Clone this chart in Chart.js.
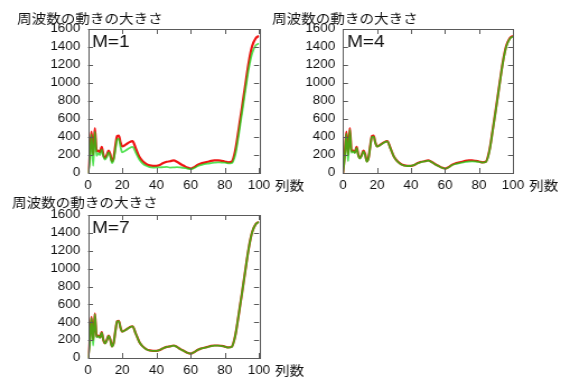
<!DOCTYPE html>
<html>
<head>
<meta charset="utf-8">
<script src="https://cdn.jsdelivr.net/npm/chart.js@4/dist/chart.umd.min.js"></script>
<style>
  html, body { margin: 0; padding: 0; background: #fff; }
  body { width: 570px; height: 378px; position: relative; overflow: hidden; }
  .panel { position: absolute; transform-origin: 0 0; }
  .panel canvas { display: block; }
</style>
</head>
<body>
<div class="panel" id="p1"><canvas id="c1"></canvas></div>
<div class="panel" id="p2"><canvas id="c2"></canvas></div>
<div class="panel" id="p3"><canvas id="c3"></canvas></div>
<script>
// Column index (x) shared by every series
const columns = [0,1,2,3,4,5,6,7,8,9,10,11,12,13,14,15,16,17,18,19,20,
  22,24,26,28,30,32,34,36,38,40,42,44,46,48,50,52,54,56,58,60,
  62,64,66,68,70,72,74,76,78,80,82,84,86,88,90,92,94,96,98,100];

// Magnitude of frequency movement: original (red)
const original = [0,200,460,200,500,240,250,230,290,200,165,200,250,210,130,170,300,410,415,340,295,
  315,340,355,270,180,130,100,85,80,80,90,110,125,130,140,125,100,80,60,50,
  65,90,105,115,125,135,140,140,135,128,118,125,240,470,720,980,1230,1410,1495,1525];

// Approximations with M terms (green)
const approxM1 = [0,120,430,80,460,190,220,200,260,180,150,180,230,190,110,150,260,370,380,290,230,
  250,275,290,225,150,105,80,65,60,62,62,65,68,60,62,65,62,58,50,42,
  55,75,88,98,105,110,115,118,116,115,108,110,195,410,660,920,1160,1330,1415,1440];

const approxM4 = [0,170,440,130,480,225,240,220,280,195,160,195,240,200,125,165,290,400,405,335,292,
  312,337,352,268,178,128,98,83,78,80,90,108,122,128,138,123,98,78,58,48,
  62,86,100,108,116,124,128,130,128,124,116,122,232,462,712,972,1222,1402,1488,1518];

const approxM7 = [0,150,450,140,490,230,245,225,285,200,162,198,247,207,128,168,297,408,413,338,294,
  314,339,354,269,179,129,99,84,79,80,90,109,124,129,139,124,99,79,59,49,
  64,89,104,113,123,133,138,138,133,127,117,124,238,468,718,978,1228,1408,1493,1523];

const yTicks = [0,200,400,600,800,1000,1200,1400,1600];
const xTicks = [0,20,40,60,80,100];

const titleText = '周波数の動きの大きさ';
const xUnit = '列数';

const SX = 1.12;               // horizontal stretch of each panel
const FONT_LATIN = '"Liberation Sans", Arial, sans-serif';
const FONT_CJK = '"Noto Sans CJK JP", "Noto Sans CJK SC", sans-serif';
const FRAME = '#5a5a5a';
const TEXT = '#111111';

// panel placement on the page (page pixels)
const panels = [
  { id: 'p1', canvas: 'c1', left: 0,   top: 0,   w: 320, h: 192,
    plot: { l: 88, r: 259, t: 29, b: 173 }, titleX: 17, titleY: 18, label: 'M=1', approx: approxM1 },
  { id: 'p2', canvas: 'c2', left: 262, top: 0,   w: 308, h: 192,
    plot: { l: 81, r: 251, t: 29, b: 173 }, titleX: 10, titleY: 18, label: 'M=4', approx: approxM4 },
  { id: 'p3', canvas: 'c3', left: 0,   top: 188, w: 320, h: 190,
    plot: { l: 88, r: 259, t: 27, b: 170 }, titleX: 12, titleY: 14, label: 'M=7', approx: approxM7 }
];

const toPoints = arr => columns.map((c, i) => ({ x: c, y: arr[i] }));

// frame, inward ticks, title, M label and x unit
const panelDecor = {
  id: 'panelDecor',
  afterDraw(chart, args, opts) {
    const { ctx, chartArea: a, scales } = chart;
    ctx.save();
    ctx.strokeStyle = FRAME;
    ctx.lineWidth = 1;
    ctx.strokeRect(Math.round(a.left) + 0.5, Math.round(a.top) + 0.5,
                   Math.round(a.right - a.left), Math.round(a.bottom - a.top));
    const tl = 5;
    ctx.beginPath();
    xTicks.forEach(v => {
      const x = Math.round(scales.x.getPixelForValue(v)) + 0.5;
      ctx.moveTo(x, a.bottom); ctx.lineTo(x, a.bottom - tl);
      ctx.moveTo(x, a.top); ctx.lineTo(x, a.top + tl);
    });
    yTicks.forEach(v => {
      const y = Math.round(scales.y.getPixelForValue(v)) + 0.5;
      ctx.moveTo(a.left, y); ctx.lineTo(a.left + tl / SX, y);
      ctx.moveTo(a.right, y); ctx.lineTo(a.right - tl / SX, y);
    });
    ctx.stroke();

    ctx.fillStyle = TEXT;
    ctx.textBaseline = 'middle';
    ctx.textAlign = 'left';
    ctx.font = '13px ' + FONT_CJK;
    ctx.fillText(titleText, opts.titleX / SX, opts.titleY);

    ctx.textBaseline = 'alphabetic';
    ctx.font = '17px ' + FONT_LATIN;
    ctx.fillText(opts.label, a.left + 4 / SX, a.top + 18);

    ctx.textBaseline = 'middle';
    ctx.font = '13px ' + FONT_CJK;
    const xr = scales.x.getPixelForValue(100);
    ctx.fillText(xUnit, xr + 16 / SX, a.bottom + 12);
    ctx.restore();
  }
};

panels.forEach(p => {
  const div = document.getElementById(p.id);
  const cv = document.getElementById(p.canvas);
  const iw = Math.round(p.w / SX);
  cv.width = iw; cv.height = p.h;
  div.style.left = p.left + 'px';
  div.style.top = p.top + 'px';
  div.style.width = iw + 'px';
  div.style.height = p.h + 'px';
  div.style.transform = 'scaleX(' + SX + ')';

  const yAxisW = p.plot.l / SX;
  const padRight = iw - p.plot.r / SX;
  const xAxisH = p.h - p.plot.b;

  new Chart(cv, {
    type: 'line',
    data: {
      datasets: [
        // approximation drawn over the original
        { label: p.label, data: toPoints(p.approx), borderColor: 'rgba(20,215,20,0.72)',
          borderWidth: 1.8, pointRadius: 0, cubicInterpolationMode: 'monotone', fill: false, order: 0 },
        { label: 'original', data: toPoints(original), borderColor: '#f01414',
          borderWidth: 2.2, pointRadius: 0, cubicInterpolationMode: 'monotone', fill: false, order: 1 }
      ]
    },
    options: {
      responsive: false,
      animation: false,
      events: [],
      layout: { padding: { left: 0, right: padRight, top: p.plot.t, bottom: 0 } },
      plugins: {
        legend: { display: false },
        tooltip: { enabled: false },
        title: { display: false },
        panelDecor: { titleX: p.titleX, titleY: p.titleY, label: p.label }
      },
      scales: {
        x: {
          type: 'linear', min: 0, max: 100,
          grid: { display: false, drawTicks: false },
          border: { display: false },
          ticks: { stepSize: 20, padding: 5, color: TEXT, maxRotation: 0,
                   font: { family: FONT_LATIN, size: 12 }, callback: v => String(v) },
          afterBuildTicks: s => { s.ticks = xTicks.map(v => ({ value: v })); },
          afterFit: s => { s.height = xAxisH; }
        },
        y: {
          type: 'linear', min: 0, max: 1600,
          grid: { display: false, drawTicks: false },
          border: { display: false },
          ticks: { stepSize: 200, padding: 7, color: TEXT, autoSkip: false,
                   font: { family: FONT_LATIN, size: 12 }, callback: v => String(v) },
          afterBuildTicks: s => { s.ticks = yTicks.map(v => ({ value: v })); },
          afterFit: s => { s.width = yAxisW; }
        }
      }
    },
    plugins: [panelDecor]
  });
});
</script>
</body>
</html>
